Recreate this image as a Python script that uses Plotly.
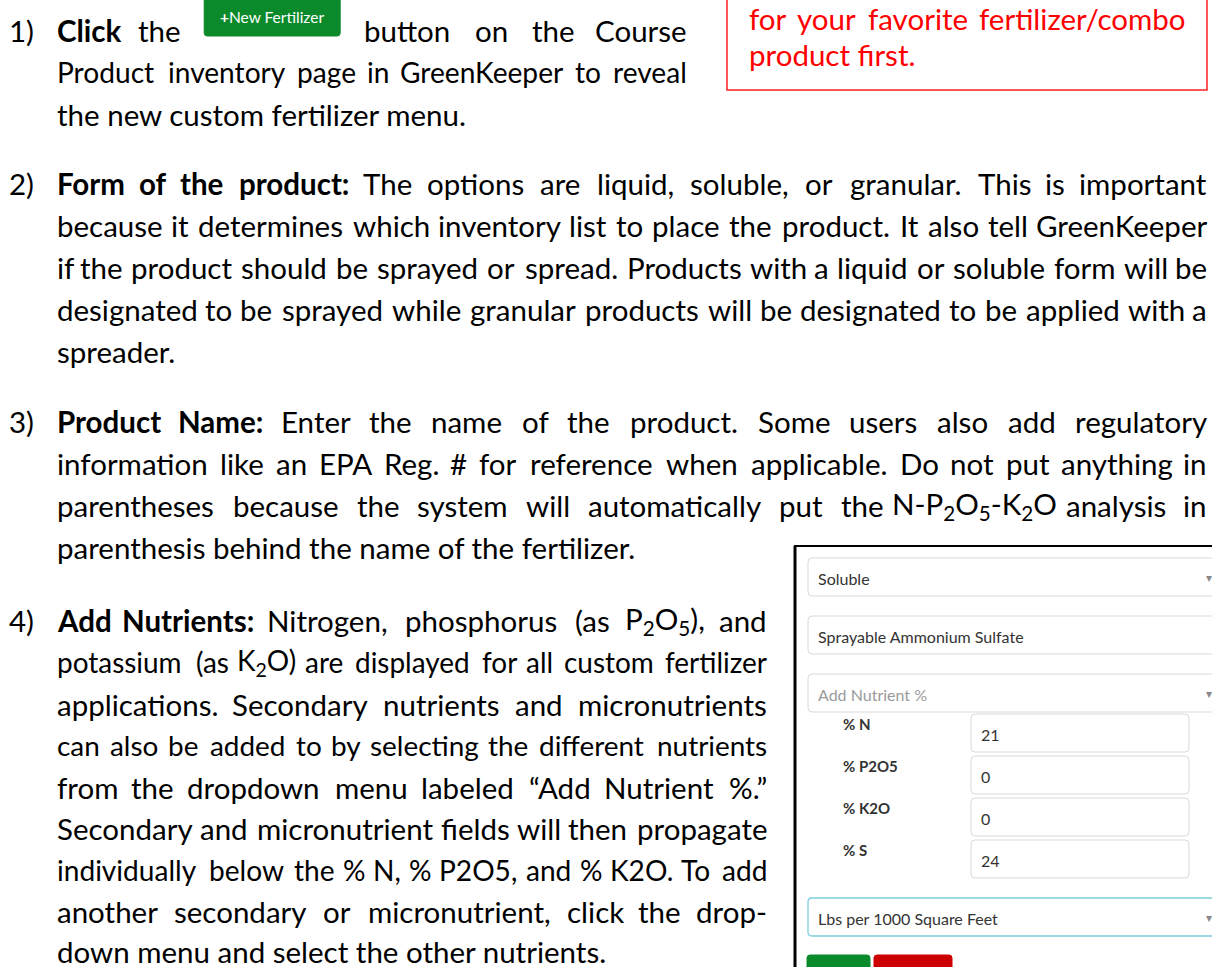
import plotly.graph_objects as go

W, H = 1212, 967
BODY_FONT = "Lato"
BODY_SIZE = 29.5
K = 31.5          # reference pixels per em (Calibri-like metrics)
MIN_GAP = 8

# ---------------- text content ----------------
PARA1 = ["*Click the [BTN] button on the Course",
         "Product inventory page in GreenKeeper to reveal",
         "the new custom fertilizer menu."]
PARA1_Y = [30, 72, 114]

NOTE = ["for your favorite fertilizer/combo",
        "product first."]
NOTE_Y = [18, 54]

PARA2 = ["*Form *of *the *product: The options are liquid, soluble, or granular. This is important",
         "because it determines which inventory list to place the product. It also tell GreenKeeper",
         "if the product should be sprayed or spread. Products with a liquid or soluble form will be",
         "designated to be sprayed while granular products will be designated to be applied with a",
         "spreader."]
PARA2_Y = [183, 225, 267, 309, 351]

PARA3 = ["*Product *Name: Enter the name of the product. Some users also add regulatory",
         "information like an EPA Reg. # for reference when applicable. Do not put anything in",
         "parentheses because the system will automatically put the N-P_2O_5-K_2O analysis in",
         "parenthesis behind the name of the fertilizer."]
PARA3_Y = [421, 463, 505, 547]

PARA4 = ["*Add *Nutrients: Nitrogen, phosphorus (as P_2O_5), and",
         "potassium (as K_2O) are displayed for all custom fertilizer",
         "applications. Secondary nutrients and micronutrients",
         "can also be added to by selecting the different nutrients",
         "from the dropdown menu labeled “Add Nutrient %.”",
         "Secondary and micronutrient fields will then propagate",
         "individually below the % N, % P2O5, and % K2O. To add",
         "another secondary or micronutrient, click the drop-",
         "down menu and select the other nutrients."]
PARA4_Y = [620, 662, 704, 745, 787, 828, 870, 911, 951]

NUMBERS = ["1)", "2)", "3)", "4)"]

# form panel content
FORM_SELECTS = ["Soluble", "Sprayable Ammonium Sulfate", "Add Nutrient %"]
FORM_SELECT_ARROW = [True, False, True]
NUTRIENT_LABELS = ["% N", "% P2O5", "% K2O", "% S"]
NUTRIENT_VALUES = ["21", "0", "0", "24"]
UNIT_LABEL = "Lbs per 1000 Square Feet"
BUTTON_LABEL = "<b>+</b>New Fertilizer"

# ---------------- width estimation ----------------
CAL = dict(zip("abcdefghijklmnopqrstuvwxyz",
               [.479, .535, .44, .535, .498, .29, .471, .525, .215, .22, .455, .215, .799,
                .525, .545, .535, .535, .36, .391, .31, .53, .452, .715, .433, .453, .395]))
CAL.update(dict(zip("ABCDEFGHIJKLMNOPQRSTUVWXYZ",
                    [.579, .544, .533, .615, .488, .459, .631, .623, .252, .319, .520, .420, .855,
                     .646, .662, .55, .673, .543, .459, .487, .642, .567, .890, .519, .487, .468])))
CAL.update({d: .507 for d in "0123456789"})
CAL.update({".": .24, ",": .24, ":": .26, "(": .30, ")": .30, "-": .306, "/": .386,
            "%": .715, "#": .498, "“": .418, "”": .418})
SPACE = .226
BTN_W = 136


def token_info(tok):
    bold = tok.startswith("*")
    if bold:
        tok = tok[1:]
    if tok == "[BTN]":
        return "", BTN_W, bold, True
    markup, width, i = "", 0.0, 0
    while i < len(tok):
        c = tok[i]
        if c == "_" and i + 1 < len(tok):
            markup += "<sub>%s</sub>" % tok[i + 1]
            width += CAL.get(tok[i + 1], .5) * 0.65
            i += 2
            continue
        markup += c
        width += CAL.get(c, .5)
        i += 1
    width *= K
    if bold:
        markup = "<b>%s</b>" % markup
    return markup, width, bold, False


def plain_markup(line):
    return " ".join(token_info(t)[0] for t in line.split(" "))


annotations = []
shapes = []


def text(x, y, s, size=BODY_SIZE, color="#000000", anchor="left", family=BODY_FONT):
    annotations.append(dict(x=x, y=y, xref="x", yref="y", text=s, showarrow=False,
                            xanchor=anchor, yanchor="middle", borderpad=0,
                            font=dict(family=family, size=size, color=color)))


def rrect(x0, y0, x1, y1, fill, line, r=4, lw=1):
    p = (f"M{x0+r},{y0} L{x1-r},{y0} Q{x1},{y0} {x1},{y0+r} L{x1},{y1-r} Q{x1},{y1} {x1-r},{y1} "
         f"L{x0+r},{y1} Q{x0},{y1} {x0},{y1-r} L{x0},{y0+r} Q{x0},{y0} {x0+r},{y0} Z")
    shapes.append(dict(type="path", path=p, xref="x", yref="y", fillcolor=fill,
                       line=dict(color=line, width=lw), layer="below"))


def place_line(line, y, left, right, justify, color="#000000"):
    if not justify:
        text(left, y, plain_markup(line), color=color)
        return
    toks = [token_info(t) for t in line.split(" ")]
    widths = [t[1] for t in toks]
    n = len(toks)
    avail = right - left
    word_total = sum(widths)
    scale = 1.0
    if word_total + MIN_GAP * (n - 1) > avail:
        scale = (avail - MIN_GAP * (n - 1)) / word_total
    widths = [w * scale for w in widths]
    size = BODY_SIZE * (scale * 0.96 if scale < 1 else 1.0)
    gap = (avail - sum(widths)) / (n - 1)
    x = left
    for i, (tok, w) in enumerate(zip(toks, widths)):
        m = tok[0]
        if tok[3]:
            rrect(x, -3, x + w, 36, "#0b8a2c", "#0b8a2c", r=3)
            text(x + w / 2, 17, BUTTON_LABEL, size=15.5, color="#ffffff", anchor="center")
        elif i == 0:
            text(x, y, m, size=size, color=color, anchor="left")
        elif i == n - 1:
            text(right, y, m, size=size, color=color, anchor="right")
        else:
            text(x + w / 2, y, m, size=size, color=color, anchor="center")
        x += w + gap


def paragraph(lines, ys, left, right, number, color="#000000"):
    if number:
        text(8, ys[0], number)
    for i, (ln, y) in enumerate(zip(lines, ys)):
        place_line(ln, y, left, right, justify=(i < len(lines) - 1), color=color)


paragraph(PARA1, PARA1_Y, 56, 688, NUMBERS[0])
paragraph(PARA2, PARA2_Y, 56, 1208, NUMBERS[1])
paragraph(PARA3, PARA3_Y, 56, 1208, NUMBERS[2])
paragraph(PARA4, PARA4_Y, 56, 768, NUMBERS[3])

# red note box
shapes.append(dict(type="rect", x0=727, x1=1207, y0=-5, y1=90, xref="x", yref="y",
                   line=dict(color="#ff2020", width=1.5), fillcolor="rgba(0,0,0,0)"))
paragraph(NOTE, NOTE_Y, 748, 1187, None, color="#ff0000")

# ---------------- form panel ----------------
shapes.append(dict(type="line", x0=795, x1=795, y0=546, y1=H + 5, xref="x", yref="y",
                   line=dict(color="#000000", width=3)))
shapes.append(dict(type="line", x0=794, x1=W + 5, y0=546, y1=546, xref="x", yref="y",
                   line=dict(color="#000000", width=2)))

FORM_SIZE = 16
sel_tops = [558, 616, 674]
for lab, top, arrow in zip(FORM_SELECTS, sel_tops, FORM_SELECT_ARROW):
    rrect(808, top, W + 20, top + 38, "#ffffff", "#d9d9d9")
    col = "#9a9a9a" if lab.startswith("Add") else "#333333"
    text(817, top + 20, lab, size=FORM_SIZE, color=col)
    if arrow:
        text(1209, top + 19, "▾", size=12, color="#888888", anchor="center")

inp_tops = [714, 756, 798, 840]
for lab, val, top in zip(NUTRIENT_LABELS, NUTRIENT_VALUES, inp_tops):
    rrect(971, top, 1189, top + 38, "#ffffff", "#d9d9d9")
    text(842, top + 10, "<b>%s</b>" % lab, size=15, color="#333333")
    text(980, top + 20, val, size=FORM_SIZE, color="#333333")

rrect(808, 898, W + 20, 936, "#ffffff", "#7ecfdc", lw=1.3)
text(817, 918, UNIT_LABEL, size=FORM_SIZE, color="#333333")
text(1209, 917, "▾", size=12, color="#888888", anchor="center")

rrect(807, 955, 870, H + 10, "#0b8a2c", "#0b8a2c", r=3)
rrect(874, 955, 952, H + 10, "#cc0000", "#cc0000", r=3)

fig = go.Figure()
fig.update_layout(
    width=W, height=H, margin=dict(l=0, r=0, t=0, b=0),
    paper_bgcolor="#ffffff", plot_bgcolor="#ffffff",
    xaxis=dict(range=[0, W], visible=False, fixedrange=True),
    yaxis=dict(range=[H, 0], visible=False, fixedrange=True),
    annotations=annotations, shapes=shapes, showlegend=False,
)
fig.write_html("out.html", config=dict(displayModeBar=False),
               post_script="document.body.style.margin='0';document.body.style.overflow='hidden';")
